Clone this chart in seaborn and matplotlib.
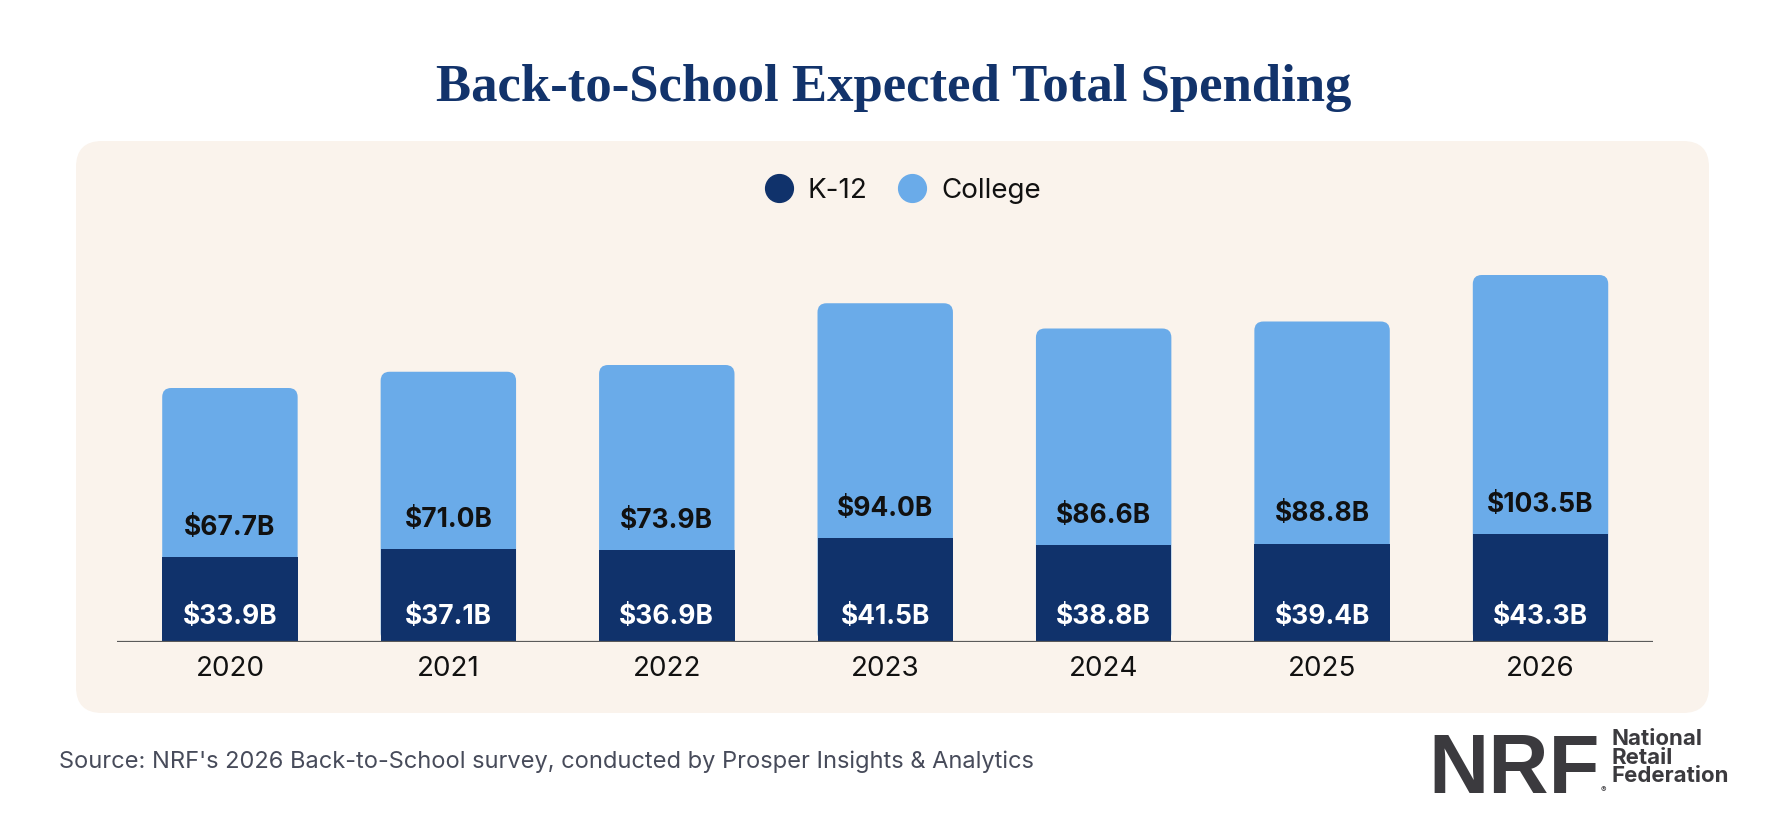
import seaborn as sns
import pandas as pd
import matplotlib.pyplot as plt
from matplotlib.patches import FancyBboxPatch
from matplotlib.lines import Line2D

# data (billions of dollars)
years = ['2020', '2021', '2022', '2023', '2024', '2025', '2026']
k12 = [33.9, 37.1, 36.9, 41.5, 38.8, 39.4, 43.3]
college = [67.7, 71.0, 73.9, 94.0, 86.6, 88.8, 103.5]

df = pd.DataFrame({'year': years, 'k12': k12, 'college': college})
df['total'] = df['k12'] + df['college']

NAVY = '#10326b'
LIGHT = '#6aabe9'
PANEL = '#faf3ec'
W, H = 1788, 814

sns.set_theme(style='white')
plt.rcParams['font.family'] = ['Inter', 'DejaVu Sans']

fig = plt.figure(figsize=(W / 100, H / 100), dpi=100)
fig.patch.set_facecolor('white')

# beige rounded panel behind the plot
panel = FancyBboxPatch((76 / W, 1 - 713 / H), (1709 - 76) / W, (713 - 141) / H,
                       boxstyle=f"round,pad=0,rounding_size={26 / W}",
                       mutation_aspect=W / H, transform=fig.transFigure,
                       facecolor=PANEL, edgecolor='none', zorder=0)
fig.add_artist(panel)

ax = fig.add_axes([117 / W, (H - 642) / H, (1653 - 117) / W, 375 / H])
ax.set_facecolor('none')

# full bars (college colour) first, k-12 drawn over them
sns.barplot(data=df, x='year', y='total', color=LIGHT, saturation=1,
            width=0.62, linewidth=0, ax=ax, zorder=2)
ax.set_xlim(-0.517, 6.515)
ax.set_ylim(0, 150)

# round the top corners of the full bars
px_x = (1653 - 117) / (6.515 + 0.517)
px_y = 375 / 150
for p in list(ax.patches):
    x, y, w, h = p.get_x(), p.get_y(), p.get_width(), p.get_height()
    p.remove()
    ax.add_patch(FancyBboxPatch((x, y), w, h,
                                boxstyle=f"round,pad=0,rounding_size={9 / px_x}",
                                mutation_aspect=px_x / px_y,
                                facecolor=LIGHT, edgecolor='none', zorder=2))

sns.barplot(data=df, x='year', y='k12', color=NAVY, saturation=1,
            width=0.62, linewidth=0, ax=ax, zorder=3)
ax.set_xlim(-0.517, 6.515)
ax.set_ylim(0, 150)

for i, (a, b) in enumerate(zip(k12, college)):
    ax.annotate(f'${a:.1f}B', (i, 0), xytext=(0, 18), textcoords='offset points',
                ha='center', va='center', color='white', fontsize=19,
                fontweight='bold', zorder=5)
    ax.annotate(f'${b:.1f}B', (i, a), xytext=(0, 21), textcoords='offset points',
                ha='center', va='center', color='#111111', fontsize=19,
                fontweight='bold', zorder=5)

ax.axhline(0, color='#5a5a5a', lw=1.6, zorder=4)
sns.despine(ax=ax, left=True, bottom=True)
ax.set_yticks([])
ax.set_xlabel('')
ax.set_ylabel('')
ax.tick_params(axis='x', length=0, pad=10, labelsize=20, labelcolor='#111111')

# legend
handles = [Line2D([], [], marker='o', ls='none', markersize=20, color=NAVY, label='K-12'),
           Line2D([], [], marker='o', ls='none', markersize=20, color=LIGHT, label='College')]
fig.legend(handles=handles, loc='center', bbox_to_anchor=(896 / W, 1 - 191 / H),
           ncol=2, frameon=False, fontsize=20, handletextpad=0.05, columnspacing=0.6,
           labelcolor='#111111')

# title
fig.text(0.5, 1 - 88 / H, 'Back-to-School Expected Total Spending', ha='center', va='center',
         fontsize=38, fontweight='bold', color='#12336b',
         family=['Liberation Serif', 'DejaVu Serif'])

# source note
fig.text(59 / W, 1 - 762 / H,
         "Source: NRF's 2026 Back-to-School survey, conducted by Prosper Insights & Analytics",
         ha='left', va='center', fontsize=17, color='#474b5a')

# NRF logo as text
nrf = fig.text(1428 / W, 1 - 793 / H, 'NRF', ha='left', va='baseline', fontsize=60,
               fontweight='bold', color='#3b3a3e',
               family=['Liberation Sans Narrow', 'Liberation Sans', 'DejaVu Sans'])
fig.canvas.draw()
nrf_right = nrf.get_window_extent().x1
fig.text((nrf_right + 1) / W, 1 - 792 / H, '®', ha='left', va='baseline',
         fontsize=6, color='#3b3a3e')
fig.text((nrf_right + 12) / W, 1 - 729 / H, 'National\nRetail\nFederation', ha='left', va='top',
         fontsize=16, fontweight='bold', color='#3b3a3e', linespacing=0.92)

fig.savefig('out.png', dpi=100)
